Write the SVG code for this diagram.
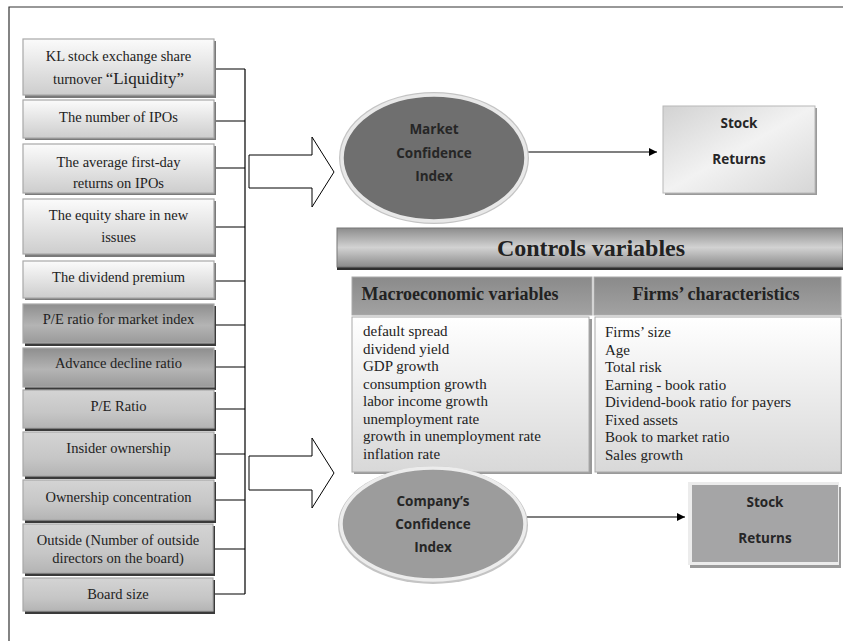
<svg xmlns="http://www.w3.org/2000/svg" width="843" height="641" viewBox="0 0 843 641">
<defs>
<linearGradient id="gLight" x1="0" y1="0" x2="0" y2="1"><stop offset="0" stop-color="#fbfbfb"/><stop offset="1" stop-color="#cdcdcd"/></linearGradient>
<linearGradient id="gDark" x1="0" y1="0" x2="0" y2="1"><stop offset="0" stop-color="#8e8e8e"/><stop offset="0.55" stop-color="#b4b4b4"/><stop offset="1" stop-color="#9a9a9a"/></linearGradient>
<linearGradient id="gMid" x1="0" y1="0" x2="0" y2="1"><stop offset="0" stop-color="#d4d4d4"/><stop offset="0.6" stop-color="#c6c6c6"/><stop offset="1" stop-color="#b4b4b4"/></linearGradient>
<linearGradient id="gBanner" x1="0" y1="0" x2="0" y2="1"><stop offset="0" stop-color="#8c8c8c"/><stop offset="0.5" stop-color="#d2d2d2"/><stop offset="1" stop-color="#8a8a8a"/></linearGradient>
<linearGradient id="gHead" x1="0" y1="0" x2="0" y2="1"><stop offset="0" stop-color="#8a8a8a"/><stop offset="1" stop-color="#a2a2a2"/></linearGradient>
<linearGradient id="gBody" x1="0" y1="0" x2="0" y2="1"><stop offset="0" stop-color="#ffffff"/><stop offset="1" stop-color="#d8d8d8"/></linearGradient>
<linearGradient id="gStock" x1="0" y1="0" x2="1" y2="1"><stop offset="0" stop-color="#d2d2d2"/><stop offset="0.5" stop-color="#f2f2f2"/><stop offset="1" stop-color="#d6d6d6"/></linearGradient>
<marker id="arr" viewBox="0 0 10 10" refX="10" refY="5" markerWidth="8" markerHeight="8" orient="auto" markerUnits="userSpaceOnUse"><path d="M0,0 L10,5 L0,10 z" fill="#000"/></marker>
<style>
.serif{font-family:"Liberation Serif","Times New Roman",serif;fill:#222;}
.lt{font-size:14.5px;text-anchor:middle;}
.sans{font-family:"Open Sans","Liberation Sans",sans-serif;font-weight:bold;fill:#262626;font-size:13.5px;text-anchor:middle;}
.body{font-size:15px;}
.box{stroke:#a8a8a8;stroke-width:1.2;}
.sh{fill:#7a7a7a;}
.shd{fill:#3a3a3a;}
.con{stroke:#000;stroke-width:1.2;fill:none;}
</style>
</defs>
<rect width="843" height="641" fill="#fff"/>
<g id="frame" stroke="#333" stroke-width="1.2" fill="none"><path d="M9,641 V7 H843"/></g>

<g id="connectors">
<path class="con" d="M214,69 H245 M214,121 H245 M214,168 H245 M214,227 H245 M214,281 H245 M214,325 H245 M214,367 H245 M214,409 H245 M214,454 H245 M214,500 H245 M214,549 H245 M214,594 H245 M245,69 V594"/>
<polygon points="249,155 312,155 312,137 334,172 312,207 312,188 249,188" fill="#fff" stroke="#000" stroke-width="1"/>
<polygon points="249,456 312,456 312,438 334,473 312,508 312,490 249,490" fill="#fff" stroke="#000" stroke-width="1"/>
<line class="con" x1="528" y1="152" x2="657" y2="152" marker-end="url(#arr)"/>
<line class="con" x1="527" y1="517" x2="685" y2="517" marker-end="url(#arr)"/>
</g>

<g id="n1"><rect class="sh" x="25" y="41" width="191" height="57"/><rect class="box" x="23" y="39" width="191" height="56" fill="url(#gLight)"/>
<text class="serif lt" x="118.5" y="61">KL stock exchange share</text>
<text class="serif lt" x="118.5" y="84">turnover <tspan font-size="17">“Liquidity”</tspan></text></g>
<g id="n2"><rect class="sh" x="25" y="102" width="191" height="38"/><rect class="box" x="23" y="100" width="191" height="38" fill="url(#gLight)"/>
<text class="serif lt" x="118.5" y="122">The number of IPOs</text></g>
<g id="n3"><rect class="sh" x="25" y="146" width="191" height="49"/><rect class="box" x="23" y="144" width="191" height="49" fill="url(#gLight)"/>
<text class="serif lt" x="118.5" y="167">The average first-day</text>
<text class="serif lt" x="118.5" y="188">returns on IPOs</text></g>
<g id="n4"><rect class="sh" x="25" y="201" width="191" height="56"/><rect class="box" x="23" y="199" width="191" height="55" fill="url(#gLight)"/>
<text class="serif lt" x="118.5" y="220">The equity share in new</text>
<text class="serif lt" x="118.5" y="242">issues</text></g>
<g id="n5"><rect class="sh" x="25" y="263" width="191" height="37"/><rect class="box" x="23" y="261" width="191" height="37" fill="url(#gLight)"/>
<text class="serif lt" x="118.5" y="282">The dividend premium</text></g>
<g id="n6"><rect class="shd" x="25" y="306" width="191" height="40"/><rect class="box" x="23" y="304" width="191" height="39" fill="url(#gDark)" stroke="#777"/>
<text class="serif lt" x="118.5" y="324">P/E ratio for market index</text></g>
<g id="n7"><rect class="shd" x="25" y="350" width="191" height="40"/><rect class="box" x="23" y="348" width="191" height="39" fill="url(#gDark)" stroke="#777"/>
<text class="serif lt" x="118.5" y="368">Advance decline ratio</text></g>
<g id="n8"><rect class="shd" x="25" y="392" width="191" height="39"/><rect class="box" x="23" y="390" width="191" height="38" fill="url(#gMid)"/>
<text class="serif lt" x="118.5" y="411">P/E Ratio</text></g>
<g id="n9"><rect class="shd" x="25" y="434" width="191" height="45"/><rect class="box" x="23" y="432" width="191" height="44" fill="url(#gMid)"/>
<text class="serif lt" x="118.5" y="453">Insider ownership</text></g>
<g id="n10"><rect class="shd" x="25" y="482" width="191" height="41"/><rect class="box" x="23" y="480" width="191" height="40" fill="url(#gMid)"/>
<text class="serif lt" x="118.5" y="502">Ownership concentration</text></g>
<g id="n11"><rect class="shd" x="25" y="526" width="190" height="50"/><rect class="box" x="23" y="524" width="190" height="49" fill="url(#gMid)"/>
<text class="serif lt" x="118" y="545">Outside (Number of outside</text>
<text class="serif lt" x="118" y="563">directors on the board)</text></g>
<g id="n12"><rect class="shd" x="25" y="580" width="190" height="34"/><rect class="box" x="23" y="578" width="190" height="33" fill="url(#gMid)"/>
<text class="serif lt" x="118" y="599">Board size</text></g>

<g id="market-confidence">
<ellipse cx="434" cy="158" rx="95" ry="66" fill="#c4c4c4"/>
<ellipse cx="434" cy="158" rx="92" ry="63" fill="#6f6f6f" stroke="#e8e8e8" stroke-width="3.5"/>
<text class="sans" x="434" y="134">Market</text>
<text class="sans" x="434" y="158">Confidence</text>
<text class="sans" x="434" y="181">Index</text>
</g>

<g id="stock-returns-1">
<rect x="665" y="108" width="152" height="87" fill="#9a9a9a"/>
<rect x="663" y="106" width="152" height="87" fill="url(#gStock)" stroke="#b8b8b8" stroke-width="1"/>
<text class="sans" x="739" y="128">Stock</text>
<text class="sans" x="739" y="164">Returns</text>
</g>

<g id="controls-banner">
<rect x="337" y="230" width="506" height="40" fill="#2e2e2e"/>
<rect x="337" y="228" width="506" height="39" fill="url(#gBanner)" stroke="#777" stroke-width="1"/>
<text class="serif" x="591" y="256" font-size="24" font-weight="bold" text-anchor="middle" fill="#1e1e1e">Controls variables</text>
</g>

<g id="macro">
<rect x="352" y="277" width="240" height="38" fill="url(#gHead)" stroke="#aaa" stroke-width="1"/>
<text class="serif" x="460" y="300" font-size="18" font-weight="bold" text-anchor="middle" fill="#1e1e1e">Macroeconomic variables</text>
<rect x="354" y="319" width="238" height="155" fill="#9a9a9a"/>
<rect x="352" y="317" width="237" height="155" fill="url(#gBody)" stroke="#aaa" stroke-width="1"/>
<text class="serif body" x="363" y="336">default spread</text>
<text class="serif body" x="363" y="353.5">dividend yield</text>
<text class="serif body" x="363" y="371">GDP growth</text>
<text class="serif body" x="363" y="388.5">consumption growth</text>
<text class="serif body" x="363" y="406">labor income growth</text>
<text class="serif body" x="363" y="423.5">unemployment rate</text>
<text class="serif body" x="363" y="441">growth in unemployment rate</text>
<text class="serif body" x="363" y="458.5">inflation rate</text>
</g>

<g id="firms">
<rect x="594" y="277" width="247" height="38" fill="url(#gHead)" stroke="#aaa" stroke-width="1"/>
<text class="serif" x="716" y="300" font-size="18" font-weight="bold" text-anchor="middle" fill="#1e1e1e">Firms’ characteristics</text>
<rect x="597" y="319" width="245" height="155" fill="#9a9a9a"/>
<rect x="595" y="317" width="246" height="155" fill="url(#gBody)" stroke="#aaa" stroke-width="1"/>
<text class="serif body" x="605" y="337">Firms’ size</text>
<text class="serif body" x="605" y="354.5">Age</text>
<text class="serif body" x="605" y="372">Total risk</text>
<text class="serif body" x="605" y="389.5">Earning - book ratio</text>
<text class="serif body" x="605" y="407">Dividend-book ratio for payers</text>
<text class="serif body" x="605" y="424.5">Fixed assets</text>
<text class="serif body" x="605" y="442">Book to market ratio</text>
<text class="serif body" x="605" y="459.5">Sales growth</text>
</g>

<g id="company-confidence">
<ellipse cx="433" cy="525" rx="95" ry="59" fill="#c4c4c4"/>
<ellipse cx="433" cy="524" rx="92" ry="56" fill="#9c9c9c" stroke="#ececec" stroke-width="3.5"/>
<text class="sans" x="433" y="506">Company’s</text>
<text class="sans" x="433" y="529">Confidence</text>
<text class="sans" x="433" y="552">Index</text>
</g>

<g id="stock-returns-2">
<rect x="690" y="487" width="151" height="81" fill="#9a9a9a"/>
<rect x="688" y="482" width="151" height="83" fill="#ececec"/>
<rect x="692" y="485" width="146" height="77" fill="#a5a5a6"/>
<text class="sans" x="765" y="507">Stock</text>
<text class="sans" x="765" y="543">Returns</text>
</g>
</svg>
